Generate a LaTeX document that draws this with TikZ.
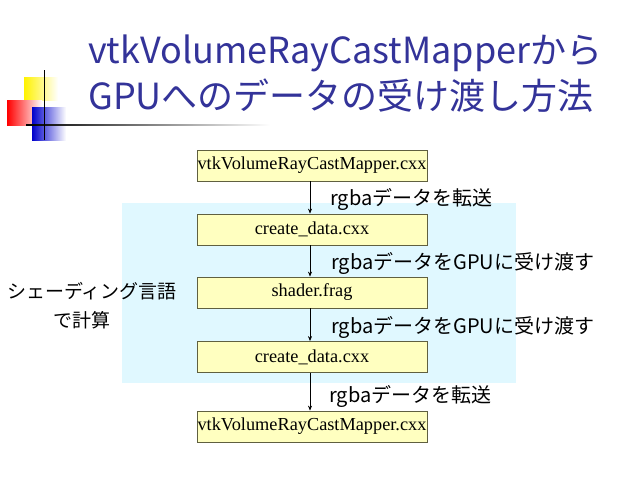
\documentclass[tikz,border=0pt]{standalone}
\usepackage{fontspec}
\setmainfont{Liberation Serif}
\newfontfamily\jp{Noto Sans CJK JP}
\usetikzlibrary{arrows.meta}
\definecolor{titleblue}{HTML}{333399}
\definecolor{boxfill}{HTML}{FFFFC0}
\definecolor{boxline}{HTML}{606040}
\definecolor{bgcyan}{HTML}{E0F8FF}
\tikzset{
  filebox/.style={draw=boxline, fill=boxfill, line width=0.8pt, minimum width=230pt, minimum height=31pt, inner sep=0pt, font=\fontsize{18.3}{20}\selectfont},
  flow/.style={-{Stealth[length=5pt,width=4pt]}, line width=0.6pt},
  lab/.style={anchor=west, inner sep=0pt, font=\jp\fontsize{20}{22}\selectfont},
  ttl/.style={anchor=west, inner sep=0pt, text=titleblue, font=\jp\fontsize{36}{40}\selectfont}
}
\begin{document}
\begin{tikzpicture}[x=1pt,y=-1pt]
\useasboundingbox (0,0) rectangle (640,480);
\fill[white] (0,0) rectangle (640,480);
% decoration
\shade[left color=yellow!90!orange, right color=white] (24,77) rectangle (58,100);
\shade[left color=red, right color=white] (7,100) rectangle (42,125);
\shade[left color=blue!80!black, right color=white] (32,107) rectangle (66,140);
\shade[left color=black, right color=white] (26,124.5) rectangle (270,125.8);
\fill[black] (43.5,70) rectangle (44.8,140);
% title
\node[ttl] (t1) at (88,53) {vtkVolumeRayCastMapperから};
\node[ttl] (t2) at (88,96) {GPUへのデータの受け渡し方法};
% background
\fill[bgcyan] (122,203) rectangle (516,383);
% boxes
\node[filebox] (b1) at (312,165.5) {vtkVolumeRayCastMapper.cxx};
\node[filebox] (b2) at (312,229.5) {create\_data.cxx};
\node[filebox] (b3) at (312,292.5) {shader.frag};
\node[filebox] (b4) at (312,357) {create\_data.cxx};
\node[filebox] (b5) at (312,426.5) {vtkVolumeRayCastMapper.cxx};
% arrows
\draw[flow] (b1.south -| 310,0) -- (b2.north -| 310,0);
\draw[flow] (b2.south -| 310,0) -- (b3.north -| 310,0);
\draw[flow] (b3.south -| 310,0) -- (b4.north -| 310,0);
\draw[flow] (b4.south -| 310,0) -- (b5.north -| 310,0);
% labels
\node[lab] (l1) at (330,199) {rgbaデータを転送};
\node[lab] (l2) at (331,263) {rgbaデータをGPUに受け渡す};
\node[lab] (l3) at (331,327) {rgbaデータをGPUに受け渡す};
\node[lab] (l4) at (329,396) {rgbaデータを転送};
\node[lab, font=\jp\fontsize{19}{21}\selectfont] (s1) at (7,291) {シェーディング言語};
\node[lab, font=\jp\fontsize{19}{21}\selectfont] (s2) at (53,320) {で計算};
\end{tikzpicture}
\end{document}
